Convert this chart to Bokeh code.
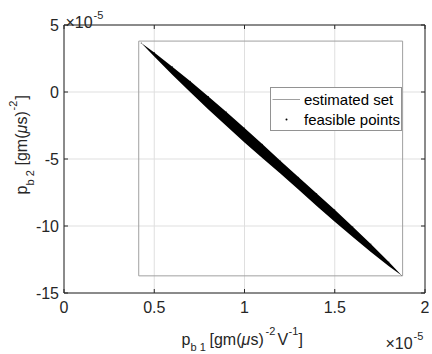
from math import pi
from bokeh.plotting import figure
from bokeh.models import Range1d, Label, Legend, LegendItem
from bokeh.embed import file_html
from bokeh.resources import INLINE

# ---- data (values in units of 1e-5) ----
x_lim = [0, 2]
y_lim = [-15, 5]
x_ticks = [0, 0.5, 1, 1.5, 2]
x_tick_labels = ["0", "0.5", "1", "1.5", "2"]
y_ticks = [-15, -10, -5, 0, 5]
y_tick_labels = ["-15", "-10", "-5", "0", "5"]

# estimated set (box)
rect_left, rect_right = 0.414, 1.876
rect_bottom, rect_top = -13.72, 3.80

# feasible points (band outline)
band_x = [0.428, 0.5, 0.6, 0.7, 0.8, 0.9, 1.0, 1.1, 1.2, 1.3, 1.4, 1.5, 1.6, 1.7, 1.8, 1.871]
band_upper = [3.66, 2.94, 1.89, 0.80, -0.33, -1.50, -2.68, -3.90, -5.14, -6.37, -7.57, -8.79, -10.05, -11.35, -12.68, -13.70]
band_lower = [3.66, 2.65, 1.29, -0.02, -1.30, -2.54, -3.76, -4.94, -6.11, -7.30, -8.50, -9.68, -10.83, -11.94, -13.01, -13.70]

FONT = "Liberation Sans"
AX = "#262626"
GRID = "#dfdfdf"

# ---- layout: page pixels of the axes box ----
W, H = 432, 354
FL, FR, FT, FB = 66.5, 427.5, 27.5, 295.5
SX = (FR - FL) / (x_lim[1] - x_lim[0])
SY = (FB - FT) / (y_lim[1] - y_lim[0])


def dx(px):
    return x_lim[0] + (px - FL) / SX


def dy(py):
    return y_lim[1] - (py - FT) / SY


p = figure(width=W, height=H, x_range=Range1d(dx(0), dx(W)), y_range=Range1d(dy(H), dy(0)),
           x_axis_type=None, y_axis_type=None, min_border=0,
           output_backend="svg", toolbar_location=None)
p.styles = {"margin-left": "-3px", "margin-top": "-3px"}
p.outline_line_color = None
p.background_fill_color = "white"
p.border_fill_color = "white"
p.grid.visible = False

nx, ny = len(x_ticks), len(y_ticks)
# grid lines
p.segment(x0=x_ticks, y0=[y_lim[0]] * nx, x1=x_ticks, y1=[y_lim[1]] * nx,
          line_color=GRID, line_width=1)
p.segment(x0=[x_lim[0]] * ny, y0=y_ticks, x1=[x_lim[1]] * ny, y1=y_ticks,
          line_color=GRID, line_width=1)

# feasible points band
p.varea(x=band_x, y1=band_lower, y2=band_upper, fill_color="black")
r_pts = p.scatter(x=band_x, y=band_upper, marker="dot", size=4,
                  fill_color="black", line_color="black")

# estimated set box
box_x = [rect_left, rect_right, rect_right, rect_left, rect_left]
box_y = [rect_bottom, rect_bottom, rect_top, rect_top, rect_bottom]
r_box = p.line(x=box_x, y=box_y, line_color="#a0a0a0", line_width=1)

# axes box
p.quad(left=[x_lim[0]], right=[x_lim[1]], bottom=[y_lim[0]], top=[y_lim[1]],
       fill_color=None, line_color=AX, line_width=1)

# inward ticks on all four sides
TL = 4
tx = TL / SY
ty = TL / SX
p.segment(x0=x_ticks, y0=[y_lim[0]] * nx, x1=x_ticks, y1=[y_lim[0] + tx] * nx, line_color=AX)
p.segment(x0=x_ticks, y0=[y_lim[1]] * nx, x1=x_ticks, y1=[y_lim[1] - tx] * nx, line_color=AX)
p.segment(x0=[x_lim[0]] * ny, y0=y_ticks, x1=[x_lim[0] + ty] * ny, y1=y_ticks, line_color=AX)
p.segment(x0=[x_lim[1]] * ny, y0=y_ticks, x1=[x_lim[1] - ty] * ny, y1=y_ticks, line_color=AX)

# tick labels
p.text(x=x_ticks, y=[y_lim[0]] * nx, text=x_tick_labels, y_offset=8,
       text_align="center", text_baseline="top", text_font={"value": FONT},
       text_font_size="16px", text_color=AX)
p.text(x=[x_lim[0]] * ny, y=y_ticks, text=y_tick_labels, x_offset=-5,
       text_align="right", text_baseline="middle", text_font={"value": FONT},
       text_font_size="16px", text_color=AX)

legend = Legend(items=[LegendItem(label="estimated set", renderers=[r_box]),
                       LegendItem(label="feasible points", renderers=[r_pts])],
                location=(273, H - 134))
legend.label_text_font = FONT
legend.label_text_font_size = "15px"
legend.label_text_color = "black"
legend.border_line_color = AX
legend.border_line_width = 1
legend.background_fill_color = "white"
legend.background_fill_alpha = 1
legend.padding = 1
legend.spacing = 0
legend.margin = 0
legend.glyph_width = 28
legend.glyph_height = 20
legend.label_height = 20
legend.label_standoff = 4
p.add_layout(legend)


def txt(px, py, s, size=16, angle=0, style="normal"):
    p.add_layout(Label(x=dx(px), y=dy(py), text=s, x_units="data", y_units="data",
                       text_font=FONT, text_font_size=f"{size}px", text_color=AX,
                       text_font_style=style, angle=angle,
                       text_align="left", text_baseline="alphabetic"))


# x label: p_{b 1} [gm(mu s)^{-2}V^{-1}]
txt(184, 342, "p")
txt(193, 349, "b 1", 11)
txt(212, 342, "[gm(")
txt(244, 342, "\u03bc", style="italic")
txt(253, 342, "s)")
txt(268, 333, "-2", 11)
txt(280, 342, "V")
txt(291, 333, "-1", 11)
txt(301, 342, "]")

# y label: p_{b 2} [gm(mu s)^{-2}]
a = pi / 2
txt(24, 197, "p", angle=a)
txt(32, 188, "b 2", 11, angle=a)
txt(24, 168, "[gm(", angle=a)
txt(24, 136, "\u03bc", angle=a, style="italic")
txt(24, 127, "s)", angle=a)
txt(15, 113, "-2", 11, angle=a)
txt(24, 102, "]", angle=a)

# exponent labels
txt(68, 24.5, "\u00d710")
txt(96, 17, "-5", 11)
txt(388, 346, "\u00d710")
txt(416, 338, "-5", 11)

open("out.html", "w").write(file_html(p, INLINE))
